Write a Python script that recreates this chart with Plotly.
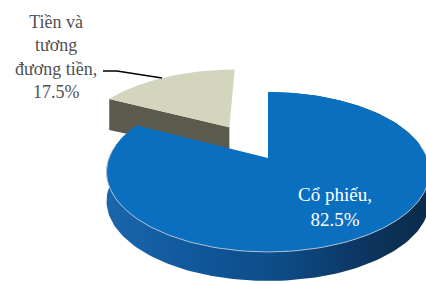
import numpy as np
import plotly.graph_objects as go

# ---- data ----
categories = ["Cổ phiếu", "Tiền và tương đương tiền"]
values = [82.5, 17.5]
label_texts = ["Cổ phiếu,<br>82.5%", "Tiền và<br>tương<br>đương tiền,<br>17.5%"]
pulls = [0.0, 0.5]
top_colors = ["#0a6fbf", "#d3d5bd"]
side_colors = ["#0f5699", "#5a5a4d"]

# ---- 3D pie geometry (screen pixel space) ----
CX, CY = 268.0, 158.0
RX, RY = 159.0, 77.5
P = 0.175      # perspective strength
H = 29.0       # thickness


def proj(u, v, down=0.0):
    d = 1 - P * v
    return CX + RX * u / d, CY + RY * v / d + down


def uv(theta_deg, r=1.0, off=(0.0, 0.0)):
    t = np.radians(theta_deg)
    return off[0] + r * np.sin(t), off[1] - r * np.cos(t)


fig = go.Figure()

total = sum(values)
angles = []
a = 0.0
for v in values:
    a0 = a
    a1 = a + 360.0 * v / total
    angles.append((a0, a1))
    a = a1

# draw back slice (index 1) first, then the front slice (index 0)
order = [1, 0]
for i in order:
    a0, a1 = angles[i]
    mid = (a0 + a1) / 2
    off = uv(mid, pulls[i])
    ths = np.linspace(a0, a1, 200)
    cu, cv = off
    if i == 1:
        # radial cut face at start angle (visible)
        ru, rv = uv(a0, 1.0, off)
        pts = [proj(cu, cv), proj(ru, rv), proj(ru, rv, H + 2), proj(cu, cv, H)]
        xs = [p[0] for p in pts] + [pts[0][0]]
        ys = [p[1] for p in pts] + [pts[0][1]]
        fig.add_trace(go.Scatter(x=xs, y=ys, mode="lines", fill="toself",
                                 fillcolor=side_colors[i], line=dict(width=0),
                                 hoverinfo="skip"))
    else:
        # outer curved side with shading gradient
        top = [proj(*uv(t, 1.0, off)) for t in ths]
        bot = [proj(*uv(t, 1.0, off), H) for t in ths[::-1]]
        pts = top + bot
        xs = [p[0] for p in pts] + [pts[0][0]]
        ys = [p[1] for p in pts] + [pts[0][1]]
        fig.add_trace(go.Scatter(
            x=xs, y=ys, mode="lines", fill="toself", line=dict(width=0),
            fillcolor=side_colors[i],
            fillgradient=dict(type="horizontal",
                              colorscale=[[0, "#1a66ab"], [0.3, "#0f5699"],
                                          [0.55, "#0d4b86"], [0.8, "#0c3560"],
                                          [1, "#0b2a48"]]),
            hoverinfo="skip"))
    # top face
    pts = [proj(cu, cv)] + [proj(*uv(t, 1.0, off)) for t in ths] + [proj(cu, cv)]
    fig.add_trace(go.Scatter(x=[p[0] for p in pts], y=[p[1] for p in pts],
                             mode="lines", fill="toself", fillcolor=top_colors[i],
                             line=dict(width=0), hoverinfo="skip",
                             name=categories[i]))
    if i == 0:
        # light rim highlight on front edge
        th2 = np.linspace(max(a0, 80), min(a1, 280), 150)
        rp = [proj(*uv(t, 1.0, off)) for t in th2]
        fig.add_trace(go.Scatter(x=[p[0] for p in rp], y=[p[1] for p in rp],
                                 mode="lines", line=dict(color="#a9bdd2", width=1),
                                 hoverinfo="skip"))
        # inside label
        lx, ly = proj(*uv(mid, 0.67, off))
        fig.add_annotation(x=lx + 5, y=ly, text=label_texts[i], showarrow=False,
                           font=dict(family="Liberation Serif", size=19, color="white"),
                           xanchor="center", yanchor="middle")

# outside label for small slice with leader line
fig.add_annotation(x=56, y=57, text=label_texts[1], showarrow=False,
                   font=dict(family="Liberation Serif", size=18, color="#505050"),
                   xanchor="center", yanchor="middle", align="center")
fig.add_shape(type="path", path="M 103 71 L 117 71 L 162 78",
              line=dict(color="black", width=1.5), xref="x", yref="y")

fig.update_layout(
    width=426, height=284,
    margin=dict(l=0, r=0, t=0, b=0),
    paper_bgcolor="white", plot_bgcolor="white",
    showlegend=False,
    xaxis=dict(range=[0, 426], visible=False, fixedrange=True),
    yaxis=dict(range=[284, 0], visible=False, fixedrange=True),
)

fig.write_html("out.html", config={"displayModeBar": False},
               post_script="document.body.style.margin='0';document.body.style.overflow='hidden';")
